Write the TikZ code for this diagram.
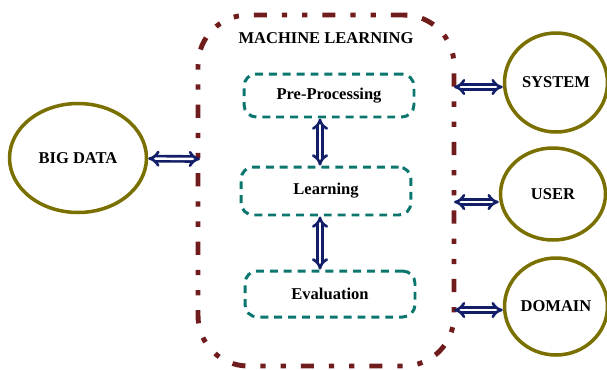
\documentclass[tikz,border=0pt]{standalone}
\usepackage{fontspec}
\setmainfont{Liberation Serif}
\usetikzlibrary{shapes.geometric,arrows.meta}
\definecolor{mlred}{RGB}{112,28,28}
\definecolor{stepteal}{RGB}{10,118,110}
\definecolor{olive}{RGB}{122,112,0}
\definecolor{navy}{RGB}{18,30,104}
\begin{document}
\begin{tikzpicture}[x=0.02cm,y=-0.02cm,
  font=\fontsize{9.4}{11}\selectfont\bfseries,
  outer/.style={draw=mlred,line width=2.8pt,rounded corners=1cm,
    dash pattern=on 7.5pt off 8.5pt on 3pt off 8.5pt on 3pt off 8.5pt},
  stage/.style={draw=stepteal,line width=1.7pt,rounded corners=7pt,
    dash pattern=on 4.5pt off 3.4pt,minimum width=3.4cm},
  actor/.style={draw=olive,line width=2pt,ellipse,inner sep=0pt},
  link/.style={draw=navy,line width=1.5pt,double=white,double distance=1.4pt,
    {Implies[scale=1.1]}-{Implies[scale=1.1]}}]
 \useasboundingbox (0,0) rectangle (607,369);
 \node[outer,minimum width=5.12cm,minimum height=7.02cm] (ml) at (326,190.5) {};
 \node (title) at (326,38) {MACHINE LEARNING};
 \node[stage,minimum height=0.86cm] (pre) at (329,95.5) {Pre-Processing};
 \node[stage,minimum height=0.96cm] (learn) at (326,191) {Learning};
 \node[stage,minimum height=0.92cm] (eval) at (330,294) {Evaluation};
 \node[actor,minimum width=2.74cm,minimum height=2.18cm] (big) at (78,158) {BIG DATA};
 \node[actor,minimum width=2.06cm,minimum height=1.98cm] (sys) at (556,82.5) {SYSTEM};
 \node[actor,minimum width=2.1cm,minimum height=1.84cm] (user) at (553,194) {USER};
 \node[actor,minimum width=2.06cm,minimum height=1.94cm] (dom) at (556,306.5) {DOMAIN};
 % vertical links sit at x=320
 \coordinate (mid) at (320,0);
 \draw[link] (pre.south -| mid) -- (learn.north -| mid);
 \draw[link] (learn.south -| mid) -- (eval.north -| mid);
 \coordinate (b) at (200,159);
 \coordinate (s) at (454,87);
 \coordinate (u) at (454,202);
 \coordinate (d) at (454,310);
 \draw[link] (big) -- (b);
 \draw[link] (s) -- (s -| sys.west);
 \draw[link] (u) -- (u -| user.west);
 \draw[link] (d) -- (d -| dom.west);
\end{tikzpicture}
\end{document}
